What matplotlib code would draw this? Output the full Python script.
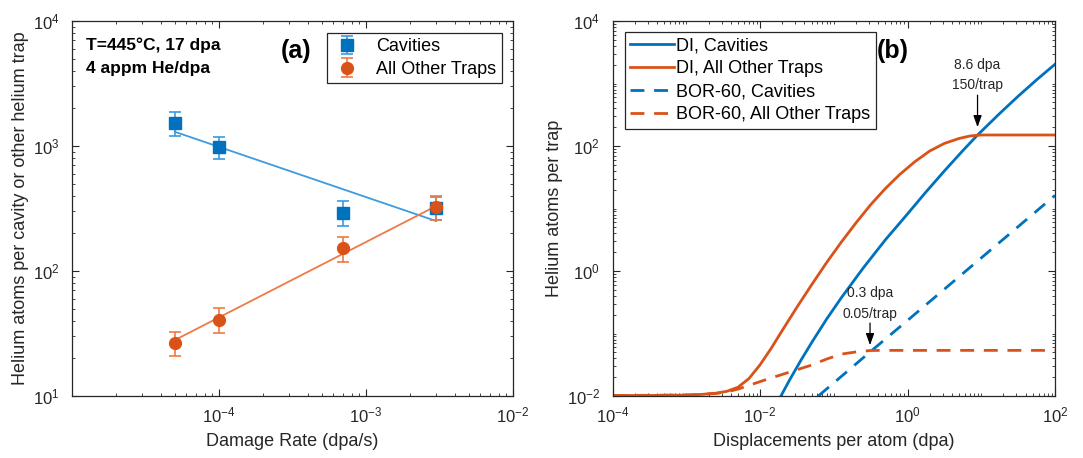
import numpy as np
import matplotlib
matplotlib.use('Agg')
import matplotlib.pyplot as plt
from matplotlib.ticker import LogLocator, NullFormatter

plt.rcParams['font.family'] = ['Liberation Sans', 'DejaVu Sans']
plt.rcParams['mathtext.fontset'] = 'custom'
plt.rcParams['mathtext.rm'] = 'Liberation Sans'
plt.rcParams['mathtext.it'] = 'Liberation Sans:italic'

# colours (MATLAB defaults, lighter versions for fit lines / error bars)
BLUE = '#0072BD'
ORANGE = '#D95319'
BLUE_LT = '#3d9be0'
ORANGE_LT = '#f07a45'
AX_COL = '#262626'

# ---- panel (a) data ----
rate = [5e-5, 1e-4, 7e-4, 3e-3]          # dpa/s
cav_he = [1540, 990, 293, 317]
cav_lo = [1200, 782, 229, 256]
cav_hi = [1880, 1190, 361, 393]
oth_he = [26.7, 40.6, 152, 323]
oth_lo = [20.9, 32.1, 119, 256]
oth_hi = [32.7, 50.3, 186, 398]
fit_rate = [5e-5, 3e-3]
cav_fit = [1300, 251]
oth_fit = [28, 331]

# ---- panel (b) data ----
di_cav_dpa = [0.0192, 0.0251, 0.0355, 0.0501, 0.0794, 0.126, 0.251, 0.501,
              0.871, 1.78, 3.16, 5.62, 8.91, 17.8, 31.6, 56.2, 100]
di_cav_he = [0.01, 0.018, 0.0366, 0.0716, 0.168, 0.371, 1.12, 3.16,
             6.76, 18.4, 39.9, 84.3, 150, 332, 625, 1143, 2030]
di_oth_dpa = [1e-4, 3.16e-4, 1e-3, 1.58e-3, 2.51e-3, 3.55e-3, 5.01e-3, 7.08e-3,
              1e-2, 1.41e-2, 2e-2, 3.16e-2, 5.01e-2, 7.94e-2, 0.126, 0.2, 0.316,
              0.501, 0.794, 1.26, 2.0, 3.16, 5.01, 7.08, 10, 100]
di_oth_he = [0.0102, 0.0102, 0.01035, 0.01059, 0.01109, 0.01189, 0.0138, 0.01905,
             0.0316, 0.0575, 0.112, 0.263, 0.603, 1.35, 2.88, 5.89, 11.5,
             20.9, 35.5, 56.2, 83.2, 110, 132, 145, 150, 150]
bor_cav_dpa = [0.0617, 0.3, 1, 10, 100]
bor_cav_he = [0.01, 0.049, 0.162, 1.62, 16.2]
bor_oth_dpa = [1e-4, 1e-3, 2.51e-3, 3.55e-3, 5.01e-3, 7.94e-3, 1.26e-2, 2e-2,
               3.16e-2, 5.01e-2, 7.94e-2, 0.126, 0.2, 0.316, 0.501, 100]
bor_oth_he = [0.0102, 0.01035, 0.01096, 0.01161, 0.01288, 0.01549, 0.01862, 0.02213,
              0.0263, 0.03126, 0.0389, 0.04677, 0.0507, 0.05346, 0.0537, 0.0537]

W, H = 1083, 458
FS = 13
fig = plt.figure(figsize=(W / 100, H / 100), dpi=100)


def add_ax(left, right, top, bottom):
    return fig.add_axes([left / W, 1 - bottom / H, (right - left) / W, (bottom - top) / H])


def style_ax(ax):
    ax.tick_params(which='both', direction='in', top=True, right=True,
                   colors=AX_COL, labelsize=12)
    ax.tick_params(which='major', length=5, width=0.8)
    ax.tick_params(which='minor', length=2.5, width=0.6)
    ax.tick_params(axis='y', which='major', pad=9)
    ax.tick_params(axis='x', which='major', pad=7)
    for sp in ax.spines.values():
        sp.set_color(AX_COL)
        sp.set_linewidth(0.9)


ax1 = add_ax(72, 513, 21, 396)
ax2 = add_ax(612.6, 1055, 21, 396)

# panel (a)
ax1.set_xscale('log')
ax1.set_yscale('log')
ax1.plot(fit_rate, cav_fit, color=BLUE_LT, lw=1.3)
ax1.plot(fit_rate, oth_fit, color=ORANGE_LT, lw=1.3)
cav_err = [np.array(cav_he) - np.array(cav_lo), np.array(cav_hi) - np.array(cav_he)]
oth_err = [np.array(oth_he) - np.array(oth_lo), np.array(oth_hi) - np.array(oth_he)]
ax1.errorbar(rate, cav_he, yerr=cav_err, fmt='s', color=BLUE, ecolor=BLUE_LT,
             ms=9, capsize=4, elinewidth=1.2, capthick=1.2, label='Cavities')
ax1.errorbar(rate, oth_he, yerr=oth_err, fmt='o', color=ORANGE, ecolor=ORANGE_LT,
             ms=8.5, capsize=4, elinewidth=1.2, capthick=1.2, label='All Other Traps')
ax1.set_xlim(1e-5, 1e-2)
ax1.set_ylim(1e1, 1e4)
ax1.set_xticks([1e-4, 1e-3, 1e-2])
ax1.set_yticks([1e1, 1e2, 1e3, 1e4])
ax1.xaxis.set_minor_locator(LogLocator(base=10, subs=np.arange(2, 10), numticks=20))
ax1.yaxis.set_minor_locator(LogLocator(base=10, subs=np.arange(2, 10), numticks=20))
ax1.xaxis.set_minor_formatter(NullFormatter())
ax1.yaxis.set_minor_formatter(NullFormatter())
style_ax(ax1)
ax1.set_xlabel('Damage Rate (dpa/s)', fontsize=FS, color=AX_COL, labelpad=5)
ax1.set_ylabel('Helium atoms per cavity or other helium trap', fontsize=FS,
               color=AX_COL, labelpad=3)
ax1.text(0.032, 0.935, 'T=445°C, 17 dpa', transform=ax1.transAxes, fontsize=12.5,
         fontweight='bold', va='center', ha='left')
ax1.text(0.032, 0.873, '4 appm He/dpa', transform=ax1.transAxes, fontsize=12.5,
         fontweight='bold', va='center', ha='left')
ax1.text(0.474, 0.92, '(a)', transform=ax1.transAxes, fontsize=18,
         fontweight='bold', va='center', ha='left')
leg1 = ax1.legend(loc='upper right', bbox_to_anchor=(0.974, 0.968), borderaxespad=0,
                  fontsize=FS, fancybox=False, framealpha=1, edgecolor=AX_COL,
                  handlelength=1.6, handletextpad=0.8, labelspacing=0.3,
                  borderpad=0.3)
leg1.get_frame().set_linewidth(0.9)

# panel (b)
ax2.set_xscale('log')
ax2.set_yscale('log')
dash = (0, (5, 3.5))
ax2.plot(di_cav_dpa, di_cav_he, color=BLUE, lw=2, label='DI, Cavities')
ax2.plot(di_oth_dpa, di_oth_he, color=ORANGE, lw=2, label='DI, All Other Traps')
ax2.plot(bor_cav_dpa, bor_cav_he, color=BLUE, lw=2, ls=dash, label='BOR-60, Cavities')
ax2.plot(bor_oth_dpa, bor_oth_he, color=ORANGE, lw=2, ls=dash,
         label='BOR-60, All Other Traps')
ax2.set_xlim(1e-4, 1e2)
ax2.set_ylim(1e-2, 1e4)
ax2.set_xticks([1e-4, 1e-2, 1e0, 1e2])
ax2.set_yticks([1e-2, 1e0, 1e2, 1e4])
ax2.xaxis.set_minor_locator(LogLocator(base=10, subs=np.arange(1, 10), numticks=30))
ax2.yaxis.set_minor_locator(LogLocator(base=10, subs=np.arange(1, 10), numticks=30))
ax2.xaxis.set_minor_formatter(NullFormatter())
ax2.yaxis.set_minor_formatter(NullFormatter())
style_ax(ax2)
ax2.set_xlabel('Displacements per atom (dpa)', fontsize=FS, color=AX_COL, labelpad=5)
ax2.set_ylabel('Helium atoms per trap', fontsize=FS, color=AX_COL, labelpad=3)
ax2.text(0.598, 0.92, '(b)', transform=ax2.transAxes, fontsize=18,
         fontweight='bold', va='center', ha='left')
leg2 = ax2.legend(loc='upper left', bbox_to_anchor=(0.027, 0.971), borderaxespad=0,
                  fontsize=FS, fancybox=False, framealpha=1, edgecolor=AX_COL,
                  handlelength=2.45, handletextpad=0.1, labelspacing=0.33,
                  borderpad=0.3)
leg2.get_frame().set_linewidth(0.9)

arrow = dict(arrowstyle='-|>,head_length=0.7,head_width=0.25', color='k', lw=0.9,
             shrinkA=0, shrinkB=0)
ax2.annotate('', xy=(8.9, 200), xytext=(8.9, 650), arrowprops=arrow)
ax2.text(8.9, 720, '8.6 dpa\n150/trap', ha='center', va='bottom', fontsize=10,
         color=AX_COL, linespacing=1.6)
ax2.annotate('', xy=(0.31, 0.065), xytext=(0.31, 0.147), arrowprops=arrow)
ax2.text(0.31, 0.16, '0.3 dpa\n0.05/trap', ha='center', va='bottom', fontsize=10,
         color=AX_COL, linespacing=1.6)

fig.savefig('out.png', dpi=100, facecolor='white')
